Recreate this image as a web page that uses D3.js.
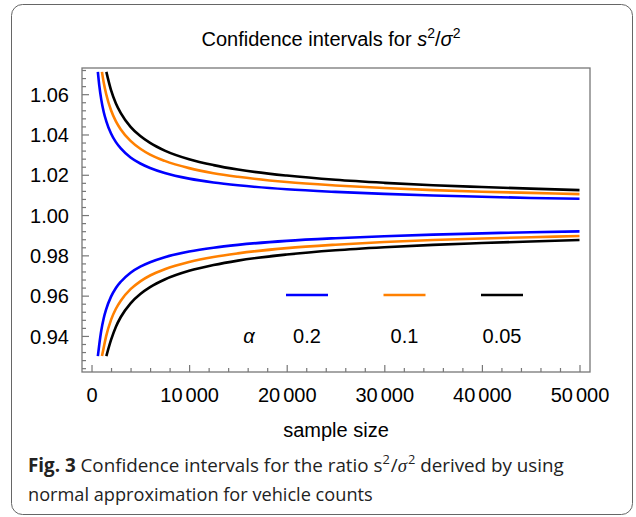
<!DOCTYPE html>
<html>
<head>
<meta charset="utf-8">
<script src="https://cdn.jsdelivr.net/npm/d3@7"></script>
<style>
  html, body { margin: 0; padding: 0; background: #fff; }
  svg { display: block; }
</style>
</head>
<body>
<svg id="chart" width="636" height="517"></svg>
<script>
// ---- data ----
const alphas = ["0.2", "0.1", "0.05"];
const seriesColors = ["#0000ff", "#ff8000", "#000000"];

const nBlue = [650, 800, 1000, 1250, 1500, 2000, 2500, 3000, 4000, 5000, 6000, 7500, 10000, 12500, 15000, 20000, 25000, 30000, 35000, 40000, 45000, 50000];
const upperBlue = [1.0711, 1.0641, 1.0573, 1.0512, 1.0468, 1.0405, 1.0362, 1.0331, 1.0286, 1.0256, 1.0234, 1.0209, 1.0181, 1.0162, 1.0148, 1.0128, 1.0115, 1.0105, 1.0097, 1.0091, 1.0085, 1.0081];
const lowerBlue = [0.9300, 0.9359, 0.9427, 0.9488, 0.9532, 0.9595, 0.9638, 0.9669, 0.9714, 0.9744, 0.9766, 0.9791, 0.9819, 0.9838, 0.9852, 0.9872, 0.9885, 0.9895, 0.9903, 0.9909, 0.9915, 0.9919];

const nOrange = [1070, 1250, 1500, 2000, 2500, 3000, 4000, 5000, 6000, 7500, 10000, 12500, 15000, 20000, 25000, 30000, 35000, 40000, 45000, 50000];
const upperOrange = [1.0711, 1.0658, 1.0601, 1.0520, 1.0465, 1.0425, 1.0368, 1.0329, 1.0300, 1.0269, 1.0233, 1.0208, 1.0190, 1.0164, 1.0147, 1.0134, 1.0124, 1.0116, 1.0110, 1.0104];
const lowerOrange = [0.9300, 0.9342, 0.9399, 0.9480, 0.9535, 0.9575, 0.9632, 0.9671, 0.9700, 0.9731, 0.9767, 0.9792, 0.9810, 0.9836, 0.9853, 0.9866, 0.9876, 0.9884, 0.9890, 0.9896];

const nBlack = [1520, 2000, 2500, 3000, 4000, 5000, 6000, 7500, 10000, 12500, 15000, 20000, 25000, 30000, 35000, 40000, 45000, 50000];
const upperBlack = [1.0711, 1.0620, 1.0554, 1.0506, 1.0438, 1.0392, 1.0358, 1.0320, 1.0277, 1.0248, 1.0226, 1.0196, 1.0175, 1.0160, 1.0148, 1.0139, 1.0131, 1.0124];
const lowerBlack = [0.9300, 0.9380, 0.9446, 0.9494, 0.9562, 0.9608, 0.9642, 0.9680, 0.9723, 0.9752, 0.9774, 0.9804, 0.9825, 0.9840, 0.9852, 0.9861, 0.9869, 0.9876];

const xTickValues = [0, 10000, 20000, 30000, 40000, 50000];
const yTickValues = [0.94, 0.96, 0.98, 1.00, 1.02, 1.04, 1.06];

// ---- layout ----
const svg = d3.select("#chart");
const FONT = "'Liberation Sans', Arial, Helvetica, sans-serif";
const plot = { left: 82, right: 590, top: 68, bottom: 372 };

const x = d3.scaleLinear().domain([-975, 51075]).range([plot.left, plot.right]);
const y = d3.scaleLinear().domain([0.9221, 1.0730]).range([plot.bottom, plot.top]);

// outer rounded border
svg.append("rect")
  .attr("x", 11.5).attr("y", 4.5).attr("width", 621).attr("height", 510)
  .attr("rx", 11).attr("ry", 11)
  .attr("fill", "none").attr("stroke", "#666").attr("stroke-width", 1);

// title
const title = svg.append("text")
  .attr("x", 331).attr("y", 46)
  .attr("text-anchor", "middle")
  .attr("font-family", FONT).attr("font-size", 20).attr("fill", "#000");
title.append("tspan").text("Confidence intervals for ");
title.append("tspan").attr("font-style", "italic").text("s");
title.append("tspan").attr("font-size", 14).attr("dy", -8).text("2");
title.append("tspan").attr("dy", 8).text("/");
title.append("tspan").attr("font-style", "italic").text("σ");
title.append("tspan").attr("font-size", 14).attr("dy", -8).text("2");

// clip
svg.append("clipPath").attr("id", "clip")
  .append("rect").attr("x", plot.left).attr("y", plot.top)
  .attr("width", plot.right - plot.left).attr("height", plot.bottom - plot.top);

// frame
svg.append("rect")
  .attr("x", plot.left).attr("y", plot.top)
  .attr("width", plot.right - plot.left).attr("height", plot.bottom - plot.top)
  .attr("fill", "none").attr("stroke", "#777").attr("stroke-width", 1.3);

// minor ticks
const xMinor = d3.range(0, 51001, 2000).filter(v => v % 10000 !== 0);
const yMinor = d3.range(0, 38).map(i => +(0.924 + i * 0.004).toFixed(3))
  .filter(v => v <= 1.0730 && Math.round(v * 1000) % 20 !== 0);

const gx = svg.append("g").attr("transform", `translate(0,${plot.bottom})`);
gx.call(d3.axisBottom(x).tickValues(xMinor).tickSize(-4).tickFormat(""));
gx.append("g").attr("class", "xmajor").call(d3.axisBottom(x).tickValues(xTickValues).tickSize(-7).tickPadding(16)
  .tickFormat(d3.format("d")));
gx.selectAll(".domain").remove();
gx.selectAll("line").attr("stroke", "#777").attr("stroke-width", 1.2);
gx.selectAll("text").attr("font-size", 20).attr("fill", "#000").attr("font-family", FONT);
// digit grouping with a small gap, as in the reference ("10 000")
gx.selectAll(".xmajor text").each(function(d) {
  if (d < 1000) return;
  const t = d3.select(this);
  const s = String(d);
  t.text("");
  t.append("tspan").text(s.slice(0, s.length - 3));
  t.append("tspan").attr("dx", 3).text(s.slice(-3));
});

const gy = svg.append("g").attr("transform", `translate(${plot.left},0)`);
gy.call(d3.axisLeft(y).tickValues(yMinor).tickSize(-4).tickFormat(""));
gy.append("g").call(d3.axisLeft(y).tickValues(yTickValues).tickSize(-7).tickPadding(13)
  .tickFormat(d3.format(".2f")));
gy.selectAll(".domain").remove();
gy.selectAll("line").attr("stroke", "#777").attr("stroke-width", 1.2);
gy.selectAll("text").attr("font-size", 20).attr("fill", "#000").attr("font-family", FONT).attr("dy", "0.36em");

// axis label
svg.append("text")
  .attr("x", 336).attr("y", 437)
  .attr("text-anchor", "middle")
  .attr("font-family", FONT).attr("font-size", 20).attr("fill", "#000")
  .text("sample size");

// curves
const series = [
  { n: nBlue, up: upperBlue, lo: lowerBlue, color: seriesColors[0] },
  { n: nOrange, up: upperOrange, lo: lowerOrange, color: seriesColors[1] },
  { n: nBlack, up: upperBlack, lo: lowerBlack, color: seriesColors[2] }
];
const line = d3.line().x(d => x(d[0])).y(d => y(d[1])).curve(d3.curveMonotoneX);
const gc = svg.append("g").attr("clip-path", "url(#clip)");
series.forEach(s => {
  [s.up, s.lo].forEach(vals => {
    gc.append("path")
      .datum(s.n.map((n, i) => [n, vals[i]]))
      .attr("d", line)
      .attr("fill", "none")
      .attr("stroke", s.color)
      .attr("stroke-width", 2.6)
      .attr("stroke-linejoin", "round");
  });
});

// legend (inside plot)
const legX = [286, 383.5, 481];
const legLen = 42;
alphas.forEach((a, i) => {
  svg.append("line")
    .attr("x1", legX[i]).attr("x2", legX[i] + legLen)
    .attr("y1", 295).attr("y2", 295)
    .attr("stroke", seriesColors[i]).attr("stroke-width", 2.6);
  svg.append("text")
    .attr("x", legX[i] + legLen / 2).attr("y", 343)
    .attr("text-anchor", "middle")
    .attr("font-family", FONT).attr("font-size", 20).attr("fill", "#000")
    .text(a);
});
svg.append("text")
  .attr("x", 249).attr("y", 343)
  .attr("text-anchor", "middle")
  .attr("font-family", FONT).attr("font-size", 20).attr("font-style", "italic").attr("fill", "#000")
  .text("α");

// caption (horizontally condensed to match the reference face)
const CAP = "'Open Sans', 'Noto Sans', sans-serif";
const capG1 = svg.append("g").attr("transform", "translate(28,472)");
const cap1 = capG1.append("text")
  .attr("x", 0).attr("y", 0)
  .attr("font-family", CAP).attr("font-size", 19).attr("fill", "#222");
cap1.append("tspan").attr("font-weight", "bold").text("Fig. 3");
cap1.append("tspan").text(" Confidence intervals for the ratio s");
cap1.append("tspan").attr("font-size", 13).attr("dy", -8).text("2");
cap1.append("tspan").attr("dy", 8).attr("dx", 1).text("/");
cap1.append("tspan").attr("font-family", "'Liberation Serif', 'DejaVu Serif', serif").attr("font-style", "italic").text("σ");
cap1.append("tspan").attr("font-size", 13).attr("dy", -8).attr("dx", 1).text("2");
cap1.append("tspan").attr("dy", 8).text(" derived by using");

const capG2 = svg.append("g").attr("transform", "translate(28,501)");
const cap2 = capG2.append("text")
  .attr("x", 0).attr("y", 0)
  .attr("font-family", CAP).attr("font-size", 19).attr("fill", "#222")
  .text("normal approximation for vehicle counts");

[[capG1, cap1, 534, 472], [capG2, cap2, 345, 501]].forEach(([g, t, w, yy]) => {
  const len = t.node().getComputedTextLength();
  const sx = len > w ? w / len : 1;
  g.attr("transform", `translate(28,${yy}) scale(${sx},1)`);
});
</script>
</body>
</html>
